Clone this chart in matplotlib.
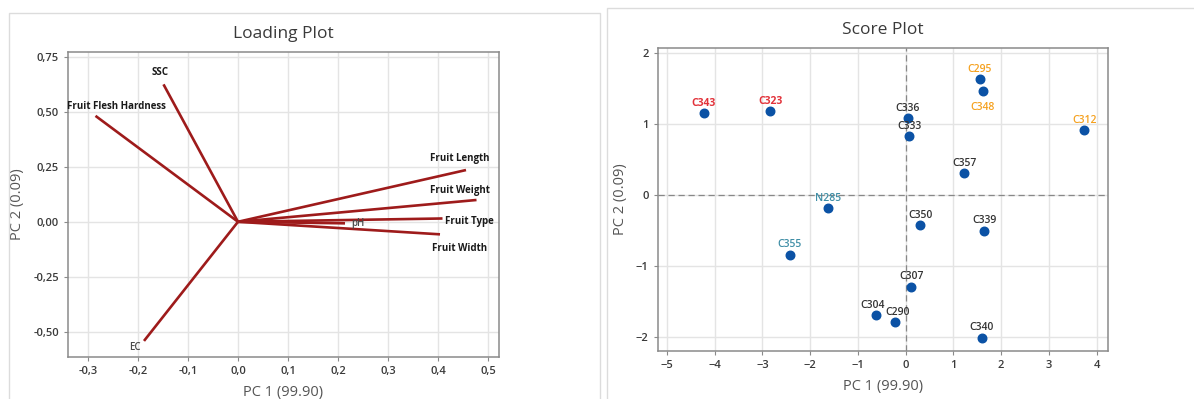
import matplotlib.pyplot as plt
from matplotlib.patches import Rectangle
from matplotlib.ticker import FuncFormatter

plt.rcParams['font.family'] = ['Open Sans', 'DejaVu Sans']

# loading plot data
variables = ['SSC', 'Fruit Flesh Hardness', 'Fruit Length', 'Fruit Weight', 'Fruit Type', 'pH', 'Fruit Width', 'EC']
pc1_load = [-0.149, -0.285, 0.456, 0.477, 0.409, 0.214, 0.404, -0.188]
pc2_load = [0.624, 0.481, 0.235, 0.099, 0.015, -0.007, -0.057, -0.541]

# score plot data
cultivars = ['C343', 'C323', 'C295', 'C348', 'C336', 'C333', 'C312', 'C357', 'N285', 'C350',
             'C339', 'C355', 'C307', 'C304', 'C290', 'C340']
pc1_score = [-4.23, -2.83, 1.55, 1.61, 0.04, 0.08, 3.74, 1.23, -1.62, 0.31,
             1.65, -2.43, 0.12, -0.61, -0.23, 1.59]
pc2_score = [1.16, 1.19, 1.64, 1.47, 1.09, 0.83, 0.92, 0.31, -0.18, -0.42,
             -0.50, -0.84, -1.29, -1.69, -1.79, -2.01]
groups = ['red', 'red', 'orange', 'orange', 'black', 'black', 'orange', 'black', 'teal', 'black',
          'black', 'teal', 'black', 'black', 'black', 'black']

fig = plt.figure(figsize=(11.94, 3.99), dpi=100)

# panel frames
fig.patches.append(Rectangle((9 / 1194, -0.05), 591 / 1194, 1 - 13 / 399 + 0.05, transform=fig.transFigure,
                             fill=False, edgecolor='#dcdcdc', linewidth=1))
fig.patches.append(Rectangle((607 / 1194, -0.05), 600 / 1194, 1 - 8 / 399 + 0.05, transform=fig.transFigure,
                             fill=False, edgecolor='#dcdcdc', linewidth=1))

txt = '#3a3a3a'


def style(ax):
    ax.grid(True, color='#e4e4e4', linewidth=1)
    ax.set_axisbelow(True)
    for s in ax.spines.values():
        s.set_color('#8a8a8a')
        s.set_linewidth(1.1)
    ax.tick_params(colors='#8a8a8a', labelcolor=txt, labelsize=8, length=3, width=0.8)
    for lab in ax.get_xticklabels() + ax.get_yticklabels():
        lab.set_fontweight('semibold')


# ---- Loading plot ----
ax1 = fig.add_axes([68 / 1194, 42 / 399, 431 / 1194, 305 / 399])
for x, y in zip(pc1_load, pc2_load):
    ax1.plot([0, x], [0, y], color='#9e1b1b', linewidth=1.9, solid_capstyle='butt')

label_pos = {
    'SSC': (-0.156, 0.679, True),
    'Fruit Flesh Hardness': (-0.243, 0.525, True),
    'Fruit Length': (0.443, 0.289, True),
    'Fruit Weight': (0.444, 0.144, True),
    'Fruit Type': (0.463, 0.0, True),
    'pH': (0.239, -0.008, False),
    'Fruit Width': (0.444, -0.12, True),
    'EC': (-0.207, -0.573, False),
}
for name in variables:
    lx, ly, bold = label_pos[name]
    ax1.text(lx, ly, name, ha='center', va='center', fontsize=7,
             fontweight='bold' if bold else 'semibold', color='#1a1a1a' if bold else '#4a4a4a')

ax1.set_xlim(-0.34, 0.522)
ax1.set_ylim(-0.614, 0.771)
ax1.set_xticks([-0.3, -0.2, -0.1, 0.0, 0.1, 0.2, 0.3, 0.4, 0.5])
ax1.set_yticks([-0.5, -0.25, 0.0, 0.25, 0.5, 0.75])
ax1.xaxis.set_major_formatter(FuncFormatter(lambda v, p: f'{v:.1f}'.replace('.', ',').replace('-0,0', '0,0')))
ax1.yaxis.set_major_formatter(FuncFormatter(lambda v, p: f'{v:.2f}'.replace('.', ',').replace('-0,00', '0,00')))
style(ax1)
ax1.set_xlabel('PC 1 (99.90)', fontsize=10.5, color='#555555', labelpad=6)
ax1.set_ylabel('PC 2 (0.09)', fontsize=10.5, color='#555555', labelpad=6)
ax1.set_title('Loading Plot', fontsize=12.5, color=txt, pad=10)

# ---- Score plot ----
ax2 = fig.add_axes([657.7 / 1194, 48 / 399, 450 / 1194, 303.3 / 399])
ax2.axhline(0, color='#888888', linestyle=(0, (5, 3)), linewidth=0.9)
ax2.axvline(0, color='#888888', linestyle=(0, (5, 3)), linewidth=0.9)
ax2.scatter(pc1_score, pc2_score, s=38, color='#0b52a5', zorder=3)

colors = {'red': '#e2323a', 'orange': '#f5a11f', 'teal': '#3f8ea6', 'black': '#333333'}
offsets = {'C348': (0, -12), 'C304': (-3, 7), 'C290': (2, 7), 'C333': (0, 7)}
for name, x, y, g in zip(cultivars, pc1_score, pc2_score, groups):
    dx, dy = offsets.get(name, (0, 7))
    ax2.annotate(name, (x, y), xytext=(dx, dy), textcoords='offset points', ha='center', va='center',
                 fontsize=7.5, color=colors[g], fontweight='bold' if g == 'red' else 'semibold')

ax2.set_xlim(-5.19, 4.23)
ax2.set_ylim(-2.2, 2.08)
ax2.set_xticks(range(-5, 5))
ax2.set_yticks([-2, -1, 0, 1, 2])
style(ax2)
ax2.set_xlabel('PC 1 (99.90)', fontsize=10.5, color='#555555', labelpad=6)
ax2.set_ylabel('PC 2 (0.09)', fontsize=10.5, color='#555555', labelpad=6)
ax2.set_title('Score Plot', fontsize=12.5, color=txt, pad=10)

plt.savefig('out.png', dpi=100)
